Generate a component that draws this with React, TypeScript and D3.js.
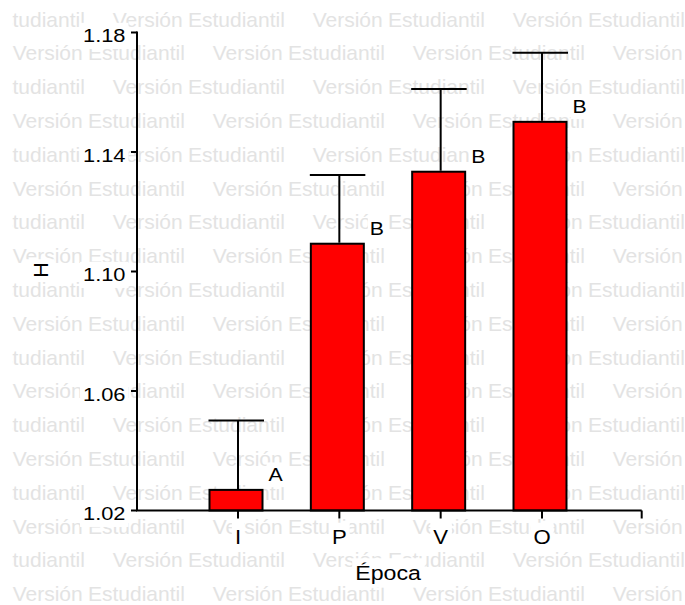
import React, { useEffect, useRef } from "react";
import * as d3 from "d3";

const categories = ["I", "P", "V", "O"];
const means = [1.0269, 1.1093, 1.1334, 1.1501];
const upper = [1.0501, 1.1323, 1.1611, 1.1732];
const letters = ["A", "B", "B", "B"];
const yTicks = [1.02, 1.06, 1.1, 1.14, 1.18];
const yTickLabels = ["1.02", "1.06", "1.10", "1.14", "1.18"];
const xTitle = "Época";
const yTitle = "H";
const wmWords = ["Versión", "Estudiantil"];

const W = 685;
const H = 605;
const FONT = "'Liberation Sans', Arial, Helvetica, sans-serif";

export default function App() {
  const ref = useRef<SVGSVGElement | null>(null);

  useEffect(() => {
    const svg = d3.select(ref.current);
    svg.selectAll("*").remove();

    // watermark
    const defs = svg.append("defs");
    defs
      .append("clipPath")
      .attr("id", "wmclip")
      .append("rect")
      .attr("x", 12)
      .attr("y", 0)
      .attr("width", W - 12)
      .attr("height", H);
    const wm = svg
      .append("g")
      .attr("clip-path", "url(#wmclip)")
      .attr("font-family", FONT)
      .attr("font-size", 21)
      .attr("fill", "#e3e3e3");
    for (let i = 0; i < 18; i++) {
      const base = 26.6 + 33.8 * i;
      const off = 12.7 + (i % 2 === 0 ? 100 : 0) - 200;
      for (let k = 0; off + 200 * k < W; k++) {
        const x0 = off + 200 * k;
        wm.append("text").attr("x", x0).attr("y", base).text(wmWords[0]);
        wm.append("text").attr("x", x0 + 75.3).attr("y", base).text(wmWords[1]);
      }
    }

    const y = d3.scaleLinear().domain([1.02, 1.18]).range([510.5, 32.5]);
    const x = d3.scalePoint<string>().domain(categories).range([238, 542]);
    const axisStart = 137;
    const axisEnd = 641.7;
    const barLeft = 29.5;
    const barRight = 25.5;

    const chart = svg.append("g");

    const addLabel = (
      px: number,
      py: number,
      txt: string,
      size: number,
      sx: number,
      anchor: string,
      rot = 0,
      pad = 3
    ) => {
      const g = chart
        .append("g")
        .attr("transform", `translate(${px},${py}) rotate(${rot}) scale(${sx},1)`);
      const rect = g.append("rect").attr("fill", "#ffffff");
      const t = g
        .append("text")
        .attr("font-family", FONT)
        .attr("font-size", size)
        .attr("text-anchor", anchor)
        .attr("fill", "#000")
        .text(txt);
      const bb = (t.node() as SVGTextElement).getBBox();
      rect
        .attr("x", bb.x - pad / sx)
        .attr("y", bb.y - pad)
        .attr("width", bb.width + (2 * pad) / sx)
        .attr("height", bb.height + 2 * pad);
    };

    // tick labels
    yTicks.forEach((v, i) => addLabel(125.5, y(v) + 9.8, yTickLabels[i], 18.5, 1.18, "end"));
    categories.forEach((c) => addLabel(x(c)!, 544, c, 20.5, 1.08, "middle"));
    addLabel(388, 580, xTitle, 20.5, 1.13, "middle");
    addLabel(47.5, 270, yTitle, 20.5, 1.05, "middle", -90);

    // bars
    categories.forEach((c, i) => {
      const cx = x(c)!;
      chart
        .append("rect")
        .attr("x", cx - barLeft + 1)
        .attr("y", y(means[i]))
        .attr("width", barLeft + barRight - 2)
        .attr("height", y(1.02) - y(means[i]))
        .attr("fill", "#ff0000")
        .attr("stroke", "#000")
        .attr("stroke-width", 2);
      chart
        .append("line")
        .attr("x1", cx)
        .attr("x2", cx)
        .attr("y1", y(means[i]) - 1)
        .attr("y2", y(upper[i]))
        .attr("stroke", "#000")
        .attr("stroke-width", 2);
      chart
        .append("line")
        .attr("x1", cx - barLeft)
        .attr("x2", cx + barRight + 0.5)
        .attr("y1", y(upper[i]))
        .attr("y2", y(upper[i]))
        .attr("stroke", "#000")
        .attr("stroke-width", 2);
    });

    categories.forEach((c, i) =>
      addLabel(x(c)! + 30.5, y(means[i]) - 8.5, letters[i], 19, 1.12, "start", 0, 2)
    );

    // axes
    const ax = chart.append("g").attr("stroke", "#000").attr("stroke-width", 2).attr("fill", "none");
    ax.append("line").attr("x1", axisStart).attr("x2", axisStart).attr("y1", y(1.18) - 1).attr("y2", y(1.02));
    ax.append("line").attr("x1", axisStart - 1).attr("x2", axisEnd).attr("y1", y(1.02)).attr("y2", y(1.02));
    yTicks.forEach((v) =>
      ax.append("line").attr("x1", axisStart - 6).attr("x2", axisStart).attr("y1", y(v)).attr("y2", y(v))
    );
    categories.forEach((c) =>
      ax.append("line").attr("x1", x(c)!).attr("x2", x(c)!).attr("y1", y(1.02)).attr("y2", y(1.02) + 8)
    );
    ax.append("line").attr("x1", axisEnd).attr("x2", axisEnd).attr("y1", y(1.02)).attr("y2", y(1.02) + 8);
  }, []);

  return (
    <svg
      ref={ref}
      width={W}
      height={H}
      style={{ position: "absolute", left: 0, top: 0, background: "#fff" }}
    />
  );
}
